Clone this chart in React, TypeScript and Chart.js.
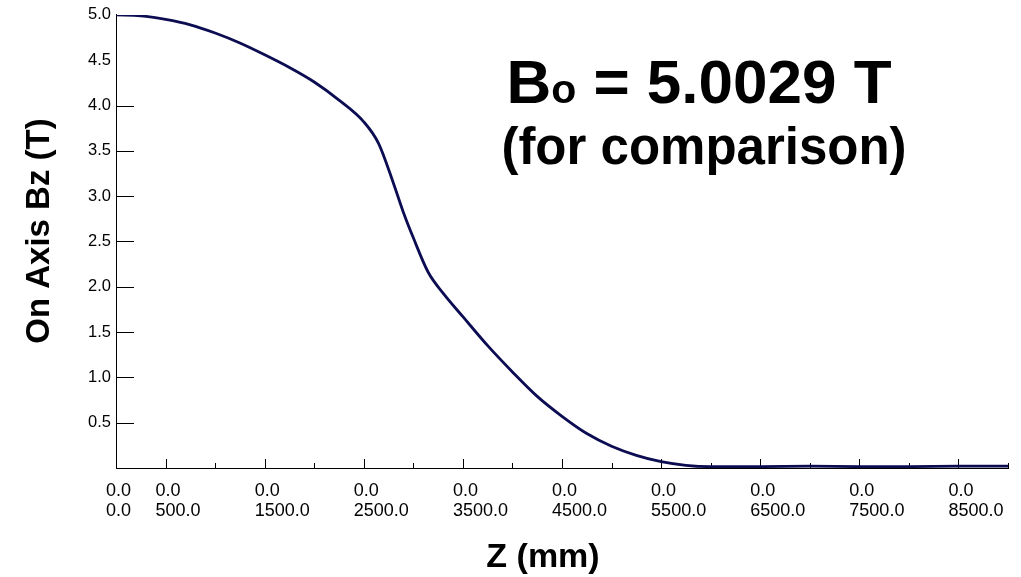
import React, { useEffect, useRef } from 'react';
import { Chart, registerables } from 'chart.js';

Chart.register(...registerables);

// ---- Data ----
const zValues = [
  0, 250, 500, 750, 1000, 1250, 1500, 1750, 2000, 2250, 2500, 2650, 2800, 2900,
  3000, 3150, 3300, 3500, 3750, 4000, 4250, 4500, 4750, 5000, 5250, 5500, 5750,
  6000, 6500, 7000, 7500, 8000, 8500, 9000,
];
const bzValues = [
  5.0, 4.99, 4.95, 4.89, 4.8, 4.69, 4.56, 4.42, 4.26, 4.06, 3.82, 3.58, 3.14, 2.82,
  2.54, 2.16, 1.93, 1.67, 1.35, 1.06, 0.79, 0.57, 0.38, 0.24, 0.14, 0.07, 0.03,
  0.015, 0.015, 0.02, 0.015, 0.015, 0.02, 0.02,
];

const xTickValues = [
  0, 500, 1000, 1500, 2000, 2500, 3000, 3500, 4000, 4500, 5000, 5500, 6000, 6500,
  7000, 7500, 8000, 8500, 9000,
];
const xLabelledTicks = [0, 500, 1500, 2500, 3500, 4500, 5500, 6500, 7500, 8500];
const xLabelTopLine = '0.0';
const xMajorTickMarks = [500, 1500, 2500, 3500, 4500, 5500, 6500, 7500, 8500];
const xMinorTickMarks = [1000, 2000, 3000, 4000, 5000, 6000, 7000, 8000, 9000];
const yTickMarks = [0.5, 1.0, 1.5, 2.0, 2.5, 3.0, 3.5, 4.0];

const titleMain = 'B';
const titleSub = 'o';
const titleRest = ' = 5.0029 T';
const titleLine2 = '(for comparison)';
const xTitle = 'Z (mm)';
const yTitle = 'On Axis Bz (T)';

const FONT = '"Liberation Sans", Arial, Helvetica, sans-serif';

const decorPlugin = {
  id: 'decor',
  beforeDatasetsDraw(chart: any) {
    const { ctx, chartArea, scales } = chart;
    const x = scales.x;
    const y = scales.y;
    ctx.save();
    ctx.strokeStyle = '#000';
    ctx.lineWidth = 1;
    ctx.beginPath();
    xMajorTickMarks.forEach((v) => {
      const px = Math.round(x.getPixelForValue(v)) + 0.5;
      ctx.moveTo(px, chartArea.bottom);
      ctx.lineTo(px, chartArea.bottom - 9);
    });
    xMinorTickMarks.forEach((v) => {
      const px = Math.round(x.getPixelForValue(v)) + 0.5;
      ctx.moveTo(px, chartArea.bottom);
      ctx.lineTo(px, chartArea.bottom - 5);
    });
    yTickMarks.forEach((v) => {
      const py = Math.round(y.getPixelForValue(v)) + 0.5;
      ctx.moveTo(chartArea.left, py);
      ctx.lineTo(chartArea.left + 18, py);
    });
    ctx.stroke();
    ctx.restore();
  },
  afterDraw(chart: any) {
    const { ctx } = chart;
    ctx.save();
    ctx.fillStyle = '#000';
    ctx.textBaseline = 'alphabetic';

    // Axis titles
    ctx.font = `bold 34px ${FONT}`;
    ctx.textAlign = 'center';
    ctx.fillText(xTitle, 543, 567);

    ctx.save();
    ctx.translate(49, 231);
    ctx.rotate(-Math.PI / 2);
    ctx.font = `bold 33px ${FONT}`;
    ctx.textAlign = 'center';
    ctx.fillText(yTitle, 0, 0);
    ctx.restore();

    // Annotation
    const bigFont = `bold 62px ${FONT}`;
    const subFont = `bold 41px ${FONT}`;
    ctx.font = bigFont;
    const wMain = ctx.measureText(titleMain).width;
    const wRest = ctx.measureText(titleRest).width;
    ctx.font = subFont;
    const wSub = ctx.measureText(titleSub).width;
    const total = wMain + wSub + wRest;
    let sx = 699 - total / 2;
    ctx.textAlign = 'left';
    ctx.font = bigFont;
    ctx.fillText(titleMain, sx, 103);
    sx += wMain;
    ctx.font = subFont;
    ctx.fillText(titleSub, sx, 103);
    sx += wSub;
    ctx.font = bigFont;
    ctx.fillText(titleRest, sx, 103);

    ctx.font = `bold 51px ${FONT}`;
    ctx.textAlign = 'center';
    ctx.fillText(titleLine2, 704, 164);
    ctx.restore();
  },
};

export default function App() {
  const canvasRef = useRef<HTMLCanvasElement | null>(null);

  useEffect(() => {
    if (!canvasRef.current) return;
    const chart = new Chart(canvasRef.current, {
      type: 'line',
      data: {
        datasets: [
          {
            data: zValues.map((z, i) => ({ x: z, y: bzValues[i] })),
            borderColor: '#0c0c52',
            borderWidth: 2.8,
            pointRadius: 0,
            cubicInterpolationMode: 'monotone',
            fill: false,
          },
        ],
      },
      options: {
        animation: false,
        responsive: true,
        maintainAspectRatio: false,
        layout: { padding: { top: 14, right: 13, left: 0, bottom: 0 } },
        plugins: {
          legend: { display: false },
          tooltip: { enabled: false },
          title: { display: false },
        },
        scales: {
          x: {
            type: 'linear',
            min: 0,
            max: 9000,
            afterBuildTicks: (scale: any) => {
              scale.ticks = xTickValues.map((v) => ({ value: v }));
            },
            afterFit: (scale: any) => {
              scale.height = 109;
            },
            grid: { display: false, drawTicks: false },
            border: { display: true, color: '#000', width: 1 },
            ticks: {
              autoSkip: false,
              maxRotation: 0,
              minRotation: 0,
              align: 'start',
              labelOffset: -10,
              padding: 13,
              color: '#000',
              font: { family: FONT, size: 18, lineHeight: 1.1 },
              callback: (value: any) =>
                xLabelledTicks.includes(Number(value))
                  ? [xLabelTopLine, Number(value).toFixed(1)]
                  : '',
            },
          },
          y: {
            type: 'linear',
            min: 0,
            max: 5,
            afterFit: (scale: any) => {
              scale.width = 116;
            },
            grid: { display: false, drawTicks: false },
            border: { display: true, color: '#000', width: 1 },
            ticks: {
              stepSize: 0.5,
              padding: 5,
              color: '#000',
              font: { family: FONT, size: 16.5 },
              callback: (value: any) => (Number(value) === 0 ? '' : Number(value).toFixed(1)),
            },
          },
        },
      },
      plugins: [decorPlugin],
    } as any);
    return () => chart.destroy();
  }, []);

  return (
    <div style={{ position: 'fixed', left: 0, top: 0, width: 1021, height: 577, background: '#fff' }}>
      <canvas ref={canvasRef} />
    </div>
  );
}
